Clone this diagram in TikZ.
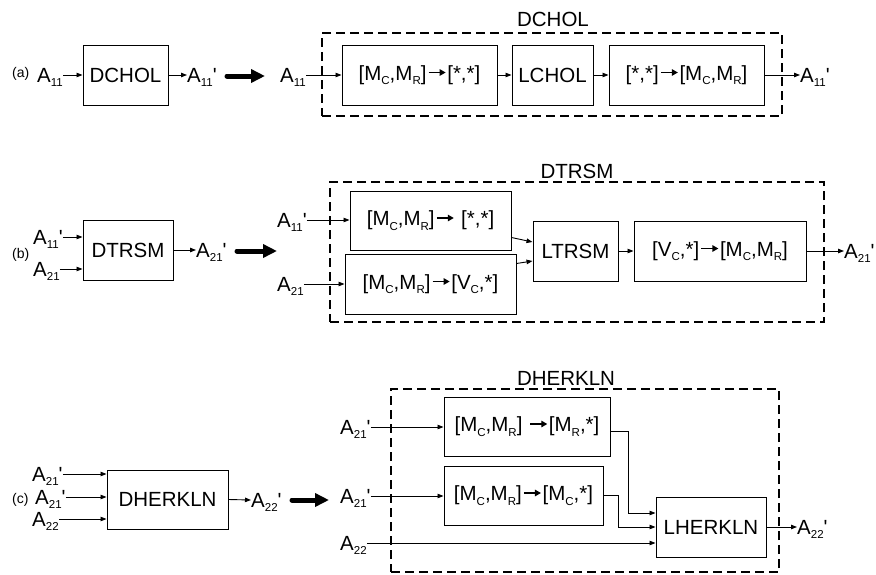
\documentclass[tikz,border=0pt]{standalone}
\usepackage{fontspec}
\setmainfont{Liberation Sans}
\usetikzlibrary{arrows.meta,calc}
\newcommand\sbx[1]{\smash{\raisebox{-0.22em}{\fontsize{11.5pt}{11.5pt}\selectfont #1}}}
\newcommand\pr{\textquotesingle}
\newcommand\rarr{\hspace{1.5pt}\tikz[baseline=-7.8pt, x=1pt, y=1pt]\draw[line width=1.3pt,-{Triangle[length=6pt,width=6.5pt]}] (0,0) -- (17,0);\hspace{1pt}}
\tikzset{
  blk/.style={draw, line width=1pt, minimum height=60pt, inner sep=0pt, font=\fontsize{20.5pt}{24pt}\selectfont},
  lbl/.style={inner sep=0pt, anchor=west, font=\fontsize{20.5pt}{24pt}\selectfont},
  ttl/.style={inner sep=0pt, font=\fontsize{20.5pt}{24pt}\selectfont},
  tag/.style={inner sep=0pt, anchor=west, font=\fontsize{14pt}{16pt}\selectfont},
  con/.style={line width=0.9pt, -{Triangle[length=6pt,width=4.5pt]}},
  big/.style={line width=5pt, line cap=round, -{Triangle[length=14pt,width=13pt]}},
  grp/.style={draw, line width=1.3pt, dash pattern=on 9pt off 5pt, inner sep=0pt}
}
\begin{document}
\begin{tikzpicture}[x=1pt,y=-1pt]
\useasboundingbox (0,0) rectangle (876,574);

% ---------------- (a) ----------------
\node[tag] (ta) at (12,74) {(a)};
\node[lbl] (a11L) at (37,75) {A\sbx{11}};
\node[blk, minimum width=85pt] (dchol) at (125.5,75) {DCHOL};
\node[lbl] (a11Lo) at (187,75) {A\sbx{11}\pr};
\draw[con] (a11L.east) -- (dchol.west);
\draw[con] (dchol.east) -- (a11Lo.west);
\coordinate (baA1) at (227,76);
\coordinate (baA2) at (265,76);
\draw[big] (baA1) -- (baA2);

\node[grp, minimum width=460pt, minimum height=83pt] (ga) at (552,74.5) {};
\node[ttl] (tga) at (553,19.5) {DCHOL};
\node[lbl] (a11R) at (280,75) {A\sbx{11}};
\node[blk, minimum width=155pt] (b1a) at (419.5,75) {[M\sbx{C},M\sbx{R}]\rarr[*,*]};
\node[blk, minimum width=81pt] (lchol) at (552.5,75) {LCHOL};
\node[blk, minimum width=155pt] (b3a) at (686.5,75) {[*,*]\rarr[M\sbx{C},M\sbx{R}]};
\node[lbl] (a11Ro) at (800,75) {A\sbx{11}\pr};
\draw[con] (a11R.east) -- (b1a.west);
\draw[con] (b1a.east) -- (lchol.west);
\draw[con] (lchol.east) -- (b3a.west);
\draw[con] (b3a.east) -- (a11Ro.west);

% ---------------- (b) ----------------
\node[tag] (tb) at (12,255) {(b)};
\node[lbl] (a11b) at (33,237) {A\sbx{11}\pr};
\node[lbl] (a21b) at (33,269) {A\sbx{21}};
\node[blk, minimum width=90pt] (dtrsm) at (128,250) {DTRSM};
\node[lbl] (a21bo) at (196,250) {A\sbx{21}\pr};
\draw[con] (a11b.east) -- (a11b.east -| dtrsm.west);
\draw[con] (a21b.east) -- (a21b.east -| dtrsm.west);
\draw[con] (dtrsm.east) -- (a21bo.west);
\coordinate (baB1) at (237,251);
\coordinate (baB2) at (277,251);
\draw[big] (baB1) -- (baB2);

\node[grp, minimum width=494pt, minimum height=140pt] (gb) at (577,252) {};
\node[ttl] (tgb) at (577,171.5) {DTRSM};
\node[lbl] (a11bR) at (277,220) {A\sbx{11}\pr};
\node[lbl] (a21bR) at (277,284) {A\sbx{21}};
\node[blk, minimum width=161pt, minimum height=59pt] (b1b) at (430.5,220.5) {[M\sbx{C},M\sbx{R}]\rarr\ [*,*]};
\node[blk, minimum width=171pt] (b2b) at (430.5,284) {[M\sbx{C},M\sbx{R}]\rarr[V\sbx{C},*]};
\node[blk, minimum width=85pt] (ltrsm) at (575.5,251) {LTRSM};
\node[blk, minimum width=172pt] (b3b) at (720,251) {[V\sbx{C},*]\rarr[M\sbx{C},M\sbx{R}]};
\node[lbl] (a21bRo) at (844,251) {A\sbx{21}\pr};
\draw[con] (a11bR.east) -- (a11bR.east -| b1b.west);
\draw[con] (a21bR.east) -- (a21bR.east -| b2b.west);
\draw[con] ($(b1b.south east)+(0,-13)$) -- ($(ltrsm.west)+(0,-9)$);
\draw[con] ($(b2b.north east)+(0,10)$) -- ($(ltrsm.west)+(0,10)$);
\draw[con] (ltrsm.east) -- (b3b.west);
\draw[con] (b3b.east) -- (a21bRo.west);

% ---------------- (c) ----------------
\node[tag] (tc) at (12,500) {(c)};
\node[lbl] (c1) at (32,474) {A\sbx{21}\pr};
\node[lbl] (c2) at (35,497) {A\sbx{21}\pr};
\node[lbl] (c3) at (32,519) {A\sbx{22}};
\node[blk, minimum width=121pt, minimum height=59pt] (dherk) at (167.5,499.5) {DHERKLN};
\node[lbl] (c4) at (251,500) {A\sbx{22}\pr};
\draw[con] (c1.east) -- (c1.east -| dherk.west);
\draw[con] (c2.east) -- (c2.east -| dherk.west);
\draw[con] (c3.east) -- (c3.east -| dherk.west);
\draw[con] (dherk.east) -- (c4.west);
\coordinate (baC1) at (292,500);
\coordinate (baC2) at (329,500);
\draw[big] (baC1) -- (baC2);

\node[grp, minimum width=388pt, minimum height=183pt] (gc) at (585,480.5) {};
\node[ttl] (tgc) at (566,378.5) {DHERKLN};
\node[lbl] (d1) at (340,427) {A\sbx{21}\pr};
\node[lbl] (d2) at (340,496) {A\sbx{21}\pr};
\node[lbl] (d3) at (340,543) {A\sbx{22}};
\node[blk, minimum width=166pt, minimum height=59pt] (b1c) at (527,426.5) {[M\sbx{C},M\sbx{R}] \rarr[M\sbx{R},*]};
\node[blk, minimum width=159pt, minimum height=59pt] (b2c) at (523.5,495.5) {[M\sbx{C},M\sbx{R}]\rarr[M\sbx{C},*]};
\node[blk, minimum width=110pt] (lherk) at (711,527) {LHERKLN};
\node[lbl] (d4) at (797,527) {A\sbx{22}\pr};
\draw[con] (d1.east) -- (d1.east -| b1c.west);
\draw[con] (d2.east) -- (d2.east -| b2c.west);
\draw[con] (d3.east) -- (d3.east -| lherk.west);
\draw[con] ($(b1c.east)+(0,5)$) -- ++(18,0) |- ($(lherk.west)+(0,-14)$);
\draw[con] (b2c.east) -- ++(15,0) |- (lherk.west);
\draw[con] (lherk.east) -- (d4.west);
\end{tikzpicture}
\end{document}
